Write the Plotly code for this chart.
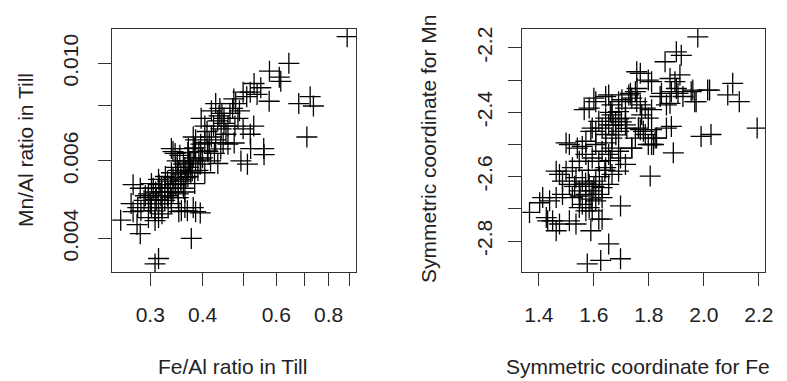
import plotly.graph_objects as go

# Left panel: Fe/Al vs Mn/Al ratio in till (log-log)
fe_al = [0.886, 0.643, 0.578, 0.610, 0.615, 0.531, 0.551, 0.577, 0.723, 0.736, 0.679, 0.710,
         0.561, 0.521, 0.512, 0.494, 0.255, 0.284, 0.376, 0.314, 0.308, 0.279, 0.273, 0.385,
         0.363, 0.351, 0.284, 0.273,
         0.475, 0.480, 0.472, 0.520, 0.510, 0.430, 0.440, 0.445, 0.450, 0.397, 0.405, 0.410,
         0.420, 0.455, 0.460, 0.478, 0.486, 0.500, 0.530, 0.520, 0.380, 0.385, 0.337, 0.370,
         0.560,
         0.340, 0.344, 0.353, 0.369, 0.383, 0.396, 0.411, 0.427, 0.442, 0.460, 0.476, 0.418,
         0.435, 0.396,
         0.302, 0.314, 0.326, 0.337, 0.350, 0.363, 0.375, 0.390, 0.405, 0.344, 0.355, 0.369,
         0.383, 0.331, 0.319, 0.309, 0.297, 0.363, 0.375, 0.350, 0.337,
         0.270, 0.280, 0.290, 0.297, 0.302, 0.308, 0.314, 0.320, 0.331, 0.325, 0.337, 0.350,
         0.356, 0.368, 0.380, 0.395, 0.308, 0.314, 0.297, 0.285,
         0.435, 0.443, 0.450, 0.438, 0.425, 0.415, 0.430, 0.448, 0.405, 0.392, 0.400, 0.385,
         0.372, 0.360, 0.355, 0.345, 0.330, 0.318, 0.325, 0.340, 0.365, 0.395, 0.412, 0.465,
         0.490, 0.500, 0.292, 0.305, 0.348, 0.378, 0.420, 0.540,
         0.310, 0.320, 0.335, 0.345, 0.355, 0.360, 0.330, 0.340, 0.350, 0.365, 0.370, 0.320,
         0.300, 0.315, 0.380]
mn_al = [0.0115, 0.0100, 0.0096, 0.0093, 0.0091, 0.0090, 0.0088, 0.0082, 0.0084, 0.0080, 0.0081, 0.0068,
         0.0062, 0.0064, 0.0059, 0.0060, 0.0044, 0.0041, 0.0040, 0.0036, 0.0035, 0.0043, 0.0046, 0.0046,
         0.0047, 0.0046, 0.0052, 0.0053,
         0.0083, 0.0081, 0.0079, 0.0086, 0.0084, 0.0081, 0.0079, 0.0077, 0.0075, 0.0075, 0.0072, 0.0070,
         0.0068, 0.0069, 0.0072, 0.0072, 0.0075, 0.0071, 0.0072, 0.0069, 0.0068, 0.0067, 0.0064, 0.0064,
         0.0064,
         0.0063, 0.00624, 0.00618, 0.00627, 0.00642, 0.00655, 0.00632, 0.00624, 0.00639, 0.00655, 0.00659, 0.0060,
         0.00592, 0.00606,
         0.00533, 0.00545, 0.00553, 0.00564, 0.00571, 0.0058, 0.00593, 0.00571, 0.00564, 0.00533, 0.00545, 0.00553,
         0.00533, 0.0051, 0.00522, 0.0051, 0.00505, 0.0051, 0.00564, 0.00505, 0.00495,
         0.0048, 0.0047, 0.00488, 0.00495, 0.0047, 0.00462, 0.0048, 0.00455, 0.0047, 0.00488, 0.0048, 0.00495,
         0.00462, 0.00462, 0.0047, 0.00457, 0.00439, 0.00446, 0.00446, 0.00462,
         0.0074, 0.0071, 0.0073, 0.0076, 0.0072, 0.0066, 0.0067, 0.0066, 0.0066, 0.0063, 0.0061, 0.0060,
         0.0060, 0.0059, 0.0056, 0.0058, 0.0054, 0.0050, 0.0052, 0.0055, 0.0055, 0.0059, 0.0063, 0.0077,
         0.0078, 0.0086, 0.0050, 0.0052, 0.0060, 0.0057, 0.0078, 0.0085,
         0.0049, 0.0051, 0.0052, 0.0053, 0.0054, 0.0052, 0.0050, 0.0051, 0.0055, 0.0057, 0.0058, 0.0047,
         0.0048, 0.0053, 0.0061]

# Right panel: symmetric coordinates
sym_fe = [1.978, 1.900, 1.918, 1.859, 1.756, 1.769, 1.798, 1.877, 1.895, 1.913, 1.900, 1.882,
          1.960, 2.014, 1.967, 2.105, 2.087, 2.129, 2.194, 1.990, 2.026, 1.889, 1.882, 1.864,
          1.805, 1.697, 1.654, 1.576, 1.625, 1.697, 1.366, 1.499, 1.589, 1.463, 1.432, 1.630,
          1.810, 1.906, 1.924, 1.846, 1.877, 1.954, 1.972, 2.021, 1.751, 1.738, 1.756, 1.727,
          1.643, 1.607, 1.583, 1.666, 1.690, 1.715, 1.787, 1.810, 1.774, 1.798, 1.618, 1.643,
          1.666, 1.690, 1.715, 1.630, 1.654, 1.679, 1.607, 1.643, 1.666, 1.690, 1.715, 1.594,
          1.762, 1.780, 1.810, 1.823, 1.751, 1.738, 1.798, 1.511, 1.558, 1.571,
          1.607, 1.643, 1.666, 1.690, 1.630, 1.654, 1.738, 1.810,
          1.715, 1.690, 1.666, 1.643, 1.618, 1.594, 1.571, 1.547, 1.522, 1.499, 1.475, 1.463,
          1.486, 1.511, 1.535, 1.558, 1.583, 1.607, 1.630, 1.654, 1.547, 1.571, 1.594, 1.618,
          1.522, 1.558, 1.583, 1.607, 1.630, 1.486, 1.463, 1.439, 1.414, 1.403, 1.427, 1.450,
          1.475, 1.511, 1.535, 1.547, 1.571, 1.594, 1.618,
          1.565, 1.600, 1.654, 1.702, 1.733, 1.757, 1.769, 1.841, 1.864, 1.828, 1.817, 1.769,
          1.787, 1.540, 1.589, 1.697,
          1.570, 1.600, 1.620, 1.590, 1.550, 1.640, 1.660, 1.680, 1.700, 1.670, 1.660, 1.690,
          1.720, 1.580, 1.530]
sym_mn = [-2.166, -2.212, -2.223, -2.243, -2.274, -2.279, -2.300, -2.295, -2.305, -2.284, -2.326, -2.336,
          -2.331, -2.331, -2.367, -2.310, -2.346, -2.367, -2.449, -2.475, -2.469, -2.526, -2.444, -2.449,
          -2.598, -2.691, -2.809, -2.871, -2.860, -2.855, -2.711, -2.495, -2.768, -2.768, -2.737, -2.732,
          -2.305, -2.341, -2.351, -2.341, -2.372, -2.336, -2.367, -2.331, -2.336, -2.356, -2.367, -2.346,
          -2.351, -2.367, -2.387, -2.377, -2.367, -2.387, -2.387, -2.392, -2.408, -2.418, -2.428, -2.418,
          -2.408, -2.398, -2.418, -2.449, -2.439, -2.428, -2.459, -2.469, -2.480, -2.459, -2.439, -2.449,
          -2.449, -2.459, -2.454, -2.480, -2.480, -2.511, -2.500, -2.500, -2.506, -2.490,
          -2.500, -2.495, -2.511, -2.521, -2.521, -2.531, -2.511, -2.500,
          -2.562, -2.583, -2.593, -2.572, -2.552, -2.542, -2.531, -2.552, -2.572, -2.583, -2.593, -2.583,
          -2.614, -2.624, -2.603, -2.614, -2.624, -2.614, -2.634, -2.624, -2.644, -2.655, -2.644, -2.655,
          -2.665, -2.686, -2.696, -2.675, -2.665, -2.655, -2.665, -2.675, -2.665, -2.681, -2.727, -2.737,
          -2.747, -2.737, -2.747, -2.696, -2.706, -2.706, -2.732,
          -2.392, -2.356, -2.346, -2.361, -2.341, -2.326, -2.377, -2.351, -2.377, -2.480, -2.500, -2.454,
          -2.469, -2.511, -2.459, -2.542,
          -2.620, -2.630, -2.600, -2.670, -2.660, -2.580, -2.550, -2.470, -2.430, -2.440, -2.400, -2.420,
          -2.450, -2.580, -2.630]

left_xticks = [0.3, 0.4, 0.5, 0.6, 0.7, 0.8, 0.9]
left_xticklabels = ["0.3", "0.4", "", "0.6", "", "0.8", ""]
left_yticks = [0.004, 0.006, 0.008, 0.010]
left_yticklabels = ["0.004", "0.006", "", "0.010"]
right_xticks = [1.4, 1.6, 1.8, 2.0, 2.2]
right_xticklabels = ["1.4", "1.6", "1.8", "2.0", "2.2"]
right_yticks = [-2.8, -2.7, -2.6, -2.5, -2.4, -2.3, -2.2]
right_yticklabels = ["-2.8", "", "-2.6", "", "-2.4", "", "-2.2"]

FONT = "Liberation Sans, Arial, sans-serif"
TXT = "#222222"
LINE = "#333333"

# page body has an 8px margin, so the figure is sized to fit inside the window
W, H = 779, 373
OFF = 8


def px(x):
    return (x - OFF) / W


def py(y):
    return 1 - (y - OFF) / H


marker = dict(symbol="cross-thin", size=15, color="black",
              line=dict(color="black", width=1.3))

fig = go.Figure()
fig.add_trace(go.Scatter(x=fe_al, y=mn_al, mode="markers", marker=marker,
                         xaxis="x", yaxis="y", showlegend=False))
fig.add_trace(go.Scatter(x=sym_fe, y=sym_mn, mode="markers", marker=marker,
                         xaxis="x2", yaxis="y2", showlegend=False))

axis_common = dict(showline=True, linecolor=LINE, linewidth=1.3, mirror=True,
                   ticks="outside", ticklen=13, tickwidth=1.3, tickcolor=LINE,
                   showgrid=False, zeroline=False,
                   tickfont=dict(family=FONT, size=21, color=TXT))

fig.update_layout(
    width=W, height=H,
    margin=dict(l=0, r=0, t=0, b=0),
    paper_bgcolor="white", plot_bgcolor="white",
    xaxis=dict(domain=[px(113.3), px(360)], type="log", range=[-0.6137, -0.0305],
               tickvals=left_xticks, ticktext=left_xticklabels, anchor="y",
               ticklabelstandoff=10, **axis_common),
    yaxis=dict(domain=[py(271.7), py(26.7)], type="log", range=[-2.475, -1.921],
               tickvals=left_yticks, ticktext=left_yticklabels, anchor="x",
               tickangle=-90, ticklabelstandoff=12, **axis_common),
    xaxis2=dict(domain=[px(527.7), px(773)], range=[1.340, 2.223],
                tickvals=right_xticks, ticktext=right_xticklabels, anchor="y2",
                ticklabelstandoff=10, **axis_common),
    yaxis2=dict(domain=[py(271.7), py(26.7)], range=[-2.897, -2.140],
                tickvals=right_yticks, ticktext=right_yticklabels, anchor="x2",
                tickangle=-90, ticklabelstandoff=8, **axis_common),
    annotations=[
        dict(text="Fe/Al ratio in Till", x=px(235), y=py(366.7), xref="paper", yref="paper",
             showarrow=False, xanchor="center", yanchor="middle",
             font=dict(family=FONT, size=21, color=TXT)),
        dict(text="Mn/Al ratio in Till", x=px(25), y=py(149), xref="paper", yref="paper",
             showarrow=False, xanchor="center", yanchor="middle", textangle=-90,
             font=dict(family=FONT, size=21, color=TXT)),
        dict(text="Symmetric coordinate for Fe", x=px(645), y=py(366.7), xref="paper", yref="paper",
             showarrow=False, xanchor="center", yanchor="middle",
             font=dict(family=FONT, size=21, color=TXT)),
        dict(text="Symmetric coordinate for Mn", x=px(433), y=py(148), xref="paper", yref="paper",
             showarrow=False, xanchor="center", yanchor="middle", textangle=-90,
             font=dict(family=FONT, size=21, color=TXT)),
    ],
)

fig.write_html("out.html")
